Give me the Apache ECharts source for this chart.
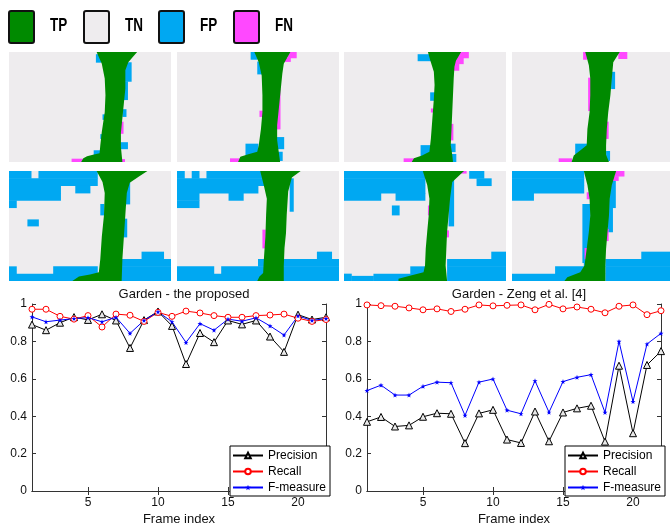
<!DOCTYPE html>
<html>
<head>
<meta charset="utf-8">
<script src="https://cdn.jsdelivr.net/npm/echarts@6/dist/echarts.min.js"></script>
<style>
html, body { margin: 0; padding: 0; background: #fff; }
#chart { width: 670px; height: 527px; }
</style>
</head>
<body>
<div id="chart"></div>
<script>
// metric curves
const frames = [1, 2, 3, 4, 5, 6, 7, 8, 9, 10, 11, 12, 13, 14, 15, 16, 17, 18, 19, 20, 21, 22]
const propPrecision = [0.89, 0.86, 0.90, 0.93, 0.915, 0.945, 0.912, 0.765, 0.914, 0.96, 0.883, 0.679, 0.845, 0.796, 0.912, 0.891, 0.912, 0.826, 0.744, 0.943, 0.917, 0.929]
const propRecall = [0.972, 0.972, 0.934, 0.919, 0.938, 0.877, 0.946, 0.94, 0.907, 0.955, 0.934, 0.962, 0.952, 0.938, 0.929, 0.929, 0.938, 0.941, 0.946, 0.924, 0.907, 0.917]
const propFmeasure = [0.931, 0.905, 0.914, 0.922, 0.927, 0.905, 0.929, 0.843, 0.912, 0.958, 0.905, 0.794, 0.895, 0.86, 0.919, 0.908, 0.926, 0.883, 0.834, 0.936, 0.912, 0.922]
const zengPrecision = [0.37, 0.396, 0.345, 0.351, 0.397, 0.416, 0.413, 0.256, 0.415, 0.434, 0.275, 0.257, 0.425, 0.266, 0.42, 0.442, 0.456, 0.264, 0.67, 0.309, 0.674, 0.748]
const zengRecall = [0.995, 0.991, 0.988, 0.979, 0.969, 0.974, 0.96, 0.972, 0.995, 0.99, 0.993, 0.995, 0.969, 0.998, 0.974, 0.984, 0.972, 0.953, 0.988, 0.995, 0.943, 0.964]
const zengFmeasure = [0.537, 0.566, 0.513, 0.513, 0.56, 0.582, 0.579, 0.404, 0.582, 0.599, 0.432, 0.413, 0.589, 0.421, 0.585, 0.608, 0.622, 0.42, 0.80, 0.478, 0.786, 0.843]
const metricNames = ['Precision', 'Recall', 'F-measure']
const plotTitles = ['Garden - the proposed', 'Garden - Zeng et al. [4]']
const xTicks = [5, 10, 15, 20]

// segmentation masks: 22 x 15 blocks (16px blocks of a 352x240 frame)
const classNames = ['TP', 'TN', 'FP', 'FN']
const E = '......................'
const blocks5 = ['BBB.BBBBBBBB..........', 'BBBBBBBBBBBB..........', 'BBBBBBB..BB...........', 'BBBBBBB...............', 'B.....................', E, E, E, E, E, E,
  '..................BBB.', '...............BBBBBBB', 'B.....BBBBBB...BBBBBBB', 'BBBBBBBBBBBB...BBBBBBB']
const blocks6 = ['B.B.BBBBBBBB..........', 'BBBBBBBBBBBB..........', 'BBBBBBBBBBB...........', 'BBB....BB.............', 'BBB...................', E, E, E, E, E, E,
  '...................BB.', '...........B..BBBBBBBB', 'BBBBB.BBBBBB..BBBBBBBB', 'BBBBBBBBBBBB..BBBBBBBB']
const blocks7 = ['BBBBBBBBBBB......BB...', 'BBBBBBBBBBB.......BB..', 'BBBBBBBBBBB...........', 'BBBBB..BBBB...........', E, E, E, E, E, E, E,
  '....................BB', '..............BBBBBBBB', '.........BB...BBBBBBBB', 'B...BBBBBBB...BBBBBBBB']
const blocks8 = ['BBBBBBBBBB............', 'BBBBBBBBBB............', 'BBBBBBBBBB............', 'BBB...................', E, E, E, E, E, E, E,
  '..................BBBB', '..........B..BBBBBBBBB', '......BBBBB..BBBBBBBBB', 'BBBBBBBBBBB..BBBBBBBBB']
const maskBlocks = [null, null, null, null, blocks5, blocks6, blocks7, blocks8]

// thin error fringes along the stem: [x0, x1, y0, y1, class]
const maskFringes = [
  [[11.8, 12.5, 0.3, 1.4, 'B'], [15.6, 16.6, 1.4, 4.0, 'B'], [15.6, 16.1, 4.0, 6.5, 'B'], [15.4, 15.9, 7.8, 8.8, 'B'], [15.1, 15.5, 9.5, 11.1, 'P'], [15.1, 16.1, 12.3, 13.2, 'B'], [11.5, 12.5, 13.4, 14.4, 'B'], [8.5, 10.2, 14.55, 15, 'P'], [15.2, 15.7, 14.6, 15, 'P'], [12.7, 13.1, 8.5, 9.2, 'B'], [12.4, 12.8, 11.2, 11.8, 'B']],
  [[10.0, 10.9, 0, 1.0, 'B'], [10.9, 11.6, 1.3, 3.0, 'B'], [15.0, 16.2, 0, 0.8, 'P'], [14.5, 15.4, 0.8, 1.3, 'P'], [13.5, 14.0, 5.0, 10.5, 'P'], [11.2, 11.7, 8.0, 8.8, 'P'], [13.5, 14.5, 11.6, 13.2, 'B'], [9.3, 11.0, 12.5, 14.2, 'B'], [7.2, 8.7, 14.5, 15, 'P'], [13.6, 14.3, 13.6, 14.8, 'B']],
  [[10.0, 11.8, 0.3, 1.2, 'B'], [15.3, 16.9, 0, 0.8, 'P'], [15.0, 16.2, 0.8, 1.6, 'P'], [14.8, 15.6, 1.6, 2.5, 'P'], [11.7, 12.4, 5.5, 6.6, 'B'], [11.8, 12.1, 7.7, 8.2, 'P'], [14.3, 14.8, 9.8, 12, 'P'], [14.3, 15.1, 12.5, 13.6, 'B'], [10.4, 11.8, 12.7, 14.3, 'B'], [8.1, 9.5, 14.5, 15, 'P'], [14.6, 15.2, 13.9, 15, 'B']],
  [[9.9, 10.4, 0, 1.0, 'P'], [14.8, 16.0, 0, 0.9, 'P'], [13.8, 14.3, 2.7, 5.0, 'B'], [10.6, 11.0, 3.5, 8.0, 'P'], [13.0, 13.4, 9.5, 11.8, 'P'], [8.8, 10.5, 12.5, 14.3, 'B'], [6.5, 8.3, 14.5, 15, 'P'], [13.1, 13.6, 13.5, 14.8, 'B']],
  [[15.8, 16.4, 1.5, 4.5, 'B'], [15.5, 16.0, 6.5, 9.0, 'B'], [12.4, 12.9, 4.5, 6.0, 'B'], [2.5, 4.0, 6.6, 7.5, 'B']],
  [[11.6, 12.0, 8.0, 10.5, 'P'], [12.9, 13.9, 0, 0.5, 'P'], [15.3, 15.8, 1.0, 5.5, 'B']],
  [[6.5, 7.5, 4.7, 6.0, 'B'], [11.4, 11.9, 4.7, 6.0, 'P'], [13.7, 14.2, 8.1, 9.0, 'P'], [14.2, 14.9, 1.2, 7.5, 'B'], [15.8, 16.6, 0, 0.3, 'P'], [1, 4, 14.3, 15, 'B']],
  [[9.8, 10.9, 4.5, 12.5, 'B'], [10.4, 10.9, 2.9, 3.8, 'P'], [10.1, 10.5, 10.5, 12, 'P'], [13.4, 14.4, 1.0, 5, 'B'], [13.3, 14.0, 5, 8.3, 'B'], [12.9, 13.4, 7.9, 9.5, 'P'], [14.3, 15.6, 0, 0.7, 'P'], [14.0, 14.8, 0.7, 1.3, 'P']]
]

// detected stem (TP) outlines, in block units
const stemOutlines = [
  [[11.9, 0], [17.4, 0], [16.2, 1.4], [15.8, 2.5], [15.8, 5], [15.6, 7], [15.4, 9], [15.2, 11], [15.2, 13], [15.4, 15], [9.8, 15], [10.1, 14.5], [10.6, 14.2], [11.4, 14.0], [12.3, 13.8], [12.4, 12.7], [12.6, 10.9], [13.0, 8.2], [13.1, 5.9], [13.0, 3.6], [12.6, 1.6]],
  [[10.5, 0], [15.4, 0], [14.5, 1.6], [14.3, 3], [14.1, 5], [13.8, 8], [13.6, 10], [13.6, 12], [13.8, 13.5], [14.0, 15], [8.3, 15], [8.6, 14.3], [9.8, 13.9], [10.9, 13.6], [11.1, 12.7], [11.4, 10.5], [11.6, 8.2], [11.6, 5.9], [11.5, 3.2], [11.1, 1.4]],
  [[11.4, 0], [15.9, 0], [15.2, 1.2], [15.0, 2], [14.9, 3.6], [14.8, 5.9], [14.7, 8.2], [14.6, 10.5], [14.5, 12.7], [14.7, 14], [14.8, 15], [9.2, 15], [9.5, 14.5], [10.6, 14.1], [11.6, 13.6], [11.8, 11.8], [12.0, 9.1], [12.2, 6.4], [12.3, 4.5], [12.2, 2.7], [11.7, 1.1]],
  [[10.2, 0], [15.0, 0], [14.1, 1.4], [13.9, 3.6], [13.7, 5.9], [13.4, 8.2], [13.2, 10.5], [13.1, 12.7], [13.1, 14], [13.5, 15], [8.3, 15], [8.6, 14.1], [9.8, 13.2], [10.4, 12.7], [10.5, 10.5], [10.8, 8.2], [10.9, 5.9], [10.9, 3.6], [10.7, 1.8]],
  [[11.9, 0], [18.8, 0], [17.6, 0.8], [16.4, 1.6], [16.0, 3], [15.8, 6], [15.6, 9], [15.4, 12], [15.3, 15], [8.6, 15], [9.5, 14.4], [11.0, 14.1], [12.2, 13.8], [12.4, 12], [12.6, 9], [12.9, 6], [13.0, 3], [12.7, 1.5]],
  [[11.3, 0], [16.8, 0], [15.6, 0.9], [15.1, 2.8], [14.9, 6], [14.8, 8.5], [14.6, 10.5], [14.5, 13], [14.5, 15], [10.9, 15], [11.2, 14.4], [11.7, 13.9], [11.8, 12], [12.0, 9], [12.1, 6], [12.2, 3.8], [11.8, 2]],
  [[10.7, 0], [16.3, 0], [14.7, 1.5], [14.4, 3.8], [14.2, 6.1], [14.0, 8.3], [13.9, 10.6], [13.8, 12.9], [14.0, 15], [7.4, 15], [7.4, 14.7], [9.2, 14.2], [10.8, 13.8], [11.0, 12.9], [11.1, 10.6], [11.3, 8.3], [11.5, 6.1], [11.6, 3.8], [11.3, 1.9]],
  [[10.0, 0], [14.5, 0], [13.9, 1.9], [13.6, 3.8], [13.5, 6.1], [13.3, 8.3], [13.1, 10.6], [13.0, 12.9], [13.0, 15], [7.3, 15], [7.7, 14.5], [9.5, 13.8], [10.1, 12.9], [10.4, 10.6], [10.7, 8.3], [10.9, 6.1], [10.8, 3.8], [10.5, 1.9]]
]

const classColors = { TP: '#008a00', TN: '#eeecee', FP: '#00a8f2', FN: '#ff48ff' }
const fringeClass = { B: 2, P: 3 }
const imageBoxes = [[9, 52], [177, 52], [344, 52], [512, 52], [9, 171], [177, 171], [344, 171], [512, 171]]
const FONT = 'Liberation Sans'

const maskItems = (rows, fringes) => {
  const items = []
  if (rows) {
    rows.forEach((row, r) => {
      let c = 0
      while (c < row.length) {
        let e = c
        while (e < row.length && row[e] === row[c]) e++
        if (row[c] !== '.') items.push([c, e, r, r + 1, fringeClass[row[c]]])
        c = e
      }
    })
  }
  fringes.forEach(f => items.push([f[0], f[1], f[2], f[3], fringeClass[f[4]]]))
  return items
}

const chart = echarts.init(document.getElementById('chart'))

const grids = []
const xAxes = []
const yAxes = []
const series = []

imageBoxes.forEach((box, i) => {
  grids.push({ left: box[0], top: box[1], width: 162, height: 110, show: true, backgroundColor: classColors.TN, borderWidth: 0 })
  xAxes.push({ type: 'value', gridIndex: i, min: 0, max: 22, show: false })
  yAxes.push({ type: 'value', gridIndex: i, min: 0, max: 15, inverse: true, show: false })
  series.push({
    type: 'custom', xAxisIndex: i, yAxisIndex: i, silent: true, clip: true,
    data: maskItems(maskBlocks[i], maskFringes[i]),
    renderItem: (params, api) => {
      const p0 = api.coord([api.value(0), api.value(2)])
      const p1 = api.coord([api.value(1), api.value(3)])
      return {
        type: 'rect',
        shape: { x: p0[0], y: p0[1], width: p1[0] - p0[0] + 0.4, height: p1[1] - p0[1] + 0.4 },
        style: { fill: classColors[classNames[api.value(4)]] }
      }
    }
  })
  series.push({
    type: 'custom', xAxisIndex: i, yAxisIndex: i, silent: true, clip: true,
    data: [[0, 0]],
    renderItem: (params, api) => ({
      type: 'polygon',
      shape: { points: stemOutlines[i].map(p => api.coord(p)) },
      style: { fill: classColors.TP }
    })
  })
})

const axisLine = { show: true, lineStyle: { color: '#333', width: 1 } }
const plotLefts = [32, 367]
const plotData = [
  [propPrecision, propRecall, propFmeasure],
  [zengPrecision, zengRecall, zengFmeasure]
]
const starPath = 'path://M0,-10L2.4,-3.1L9.5,-3.1L3.8,1.2L5.9,8.1L0,4L-5.9,8.1L-3.8,1.2L-9.5,-3.1L-2.4,-3.1Z'
const metricStyle = [
  { symbol: 'triangle', symbolSize: 7, color: '#000', fill: '#e8e8e8', border: 1 },
  { symbol: 'circle', symbolSize: 6, color: '#ff0000', fill: '#fff', border: 1 },
  { symbol: starPath, symbolSize: 5, color: '#0000ff', fill: '#0000ff', border: 0 }
]

plotLefts.forEach((left, k) => {
  const g = 8 + k
  grids.push({ left: left, top: 304, width: 294, height: 193, show: false })
  const ax = xAxes.length
  xAxes.push({
    type: 'value', gridIndex: g, min: 1, max: 22, position: 'bottom',
    name: 'Frame index', nameLocation: 'middle', nameGap: 22,
    nameTextStyle: { fontFamily: FONT, fontSize: 13, color: '#111' },
    axisLine: axisLine,
    axisTick: { inside: true, length: 4, customValues: xTicks, lineStyle: { color: '#333' } },
    axisLabel: { customValues: xTicks, fontFamily: FONT, fontSize: 12, color: '#111', margin: 6 },
    splitLine: { show: false }
  })
  xAxes.push({
    type: 'value', gridIndex: g, min: 1, max: 22, position: 'top',
    axisLine: axisLine,
    axisTick: { inside: true, length: 4, customValues: xTicks, lineStyle: { color: '#333' } },
    axisLabel: { show: false }, splitLine: { show: false }
  })
  yAxes.push({
    type: 'value', gridIndex: g, min: 0, max: 1, interval: 0.2, position: 'left',
    axisLine: axisLine,
    axisTick: { inside: true, length: 4, lineStyle: { color: '#333' } },
    axisLabel: { fontFamily: FONT, fontSize: 12, color: '#111', margin: 5, formatter: v => String(+v.toFixed(1)) },
    splitLine: { show: false }
  })
  yAxes.push({
    type: 'value', gridIndex: g, min: 0, max: 1, interval: 0.2, position: 'right',
    axisLine: axisLine,
    axisTick: { inside: true, length: 4, lineStyle: { color: '#333' } },
    axisLabel: { show: false }, splitLine: { show: false }
  })
  metricNames.forEach((name, m) => {
    const st = metricStyle[m]
    series.push({
      name: name, type: 'line', xAxisIndex: ax, yAxisIndex: ax,
      data: frames.map((f, idx) => [f, plotData[k][m][idx]]),
      symbol: st.symbol, symbolSize: st.symbolSize, showAllSymbol: true,
      itemStyle: { color: st.fill, borderColor: st.color, borderWidth: st.border },
      lineStyle: { color: st.color, width: 1 },
      emphasis: { disabled: true }
    })
  })
})

const legendBox = left => ({
  left: left, top: 446, orient: 'vertical', data: metricNames,
  itemWidth: 30, itemHeight: 7, itemGap: 3,
  padding: [3, 4, 2, 2],
  borderColor: '#000', borderWidth: 1, backgroundColor: '#fff',
  selectedMode: false,
  textStyle: { fontFamily: FONT, fontSize: 12, color: '#000', lineHeight: 13 }
})

const keyGraphic = []
const keyX = [8, 83, 158, 233]
classNames.forEach((name, i) => {
  keyGraphic.push({
    type: 'rect', left: keyX[i], top: 10,
    shape: { width: 25, height: 32, r: 2 },
    style: { fill: classColors[name], stroke: '#111', lineWidth: 2 }
  })
  keyGraphic.push({
    type: 'text', x: keyX[i] + 42, y: 26, scaleX: 0.75,
    style: { text: name, fontFamily: FONT, fontSize: 18, fontWeight: 'bold', fill: '#000', verticalAlign: 'middle' }
  })
})

chart.setOption({
  animation: false,
  backgroundColor: '#fff',
  title: plotTitles.map((t, k) => ({
    text: t, left: plotLefts[k] + 147, top: 283, textAlign: 'center',
    textStyle: { fontFamily: FONT, fontSize: 13, fontWeight: 'normal', color: '#111' }
  })),
  legend: [legendBox(230), legendBox(565)],
  graphic: keyGraphic,
  grid: grids,
  xAxis: xAxes,
  yAxis: yAxes,
  series: series
})
</script>
</body>
</html>
